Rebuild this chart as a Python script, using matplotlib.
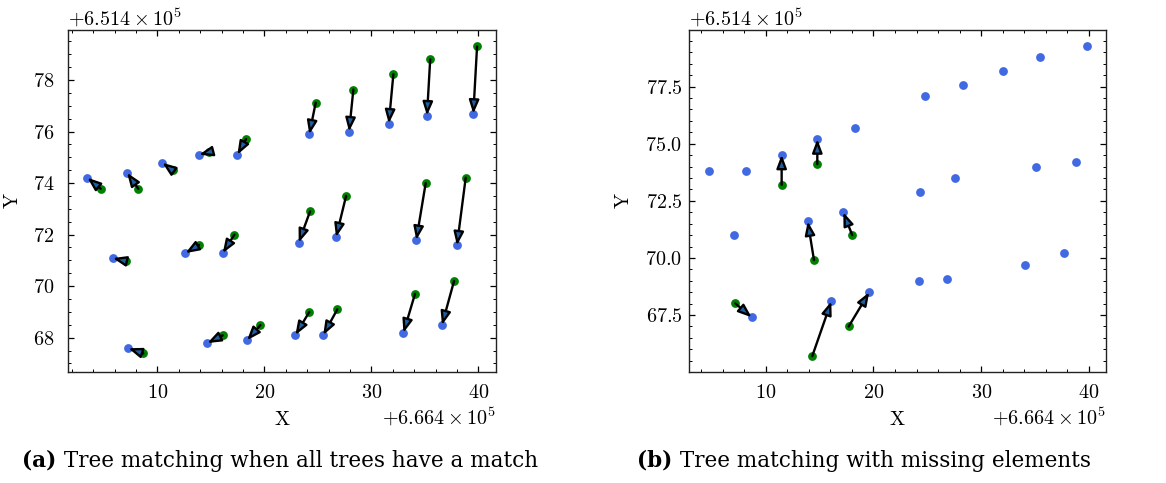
import matplotlib
matplotlib.use("Agg")
import matplotlib.pyplot as plt
from matplotlib.ticker import MultipleLocator, ScalarFormatter

plt.rcParams.update({
    "font.family": ["cmr10", "DejaVu Serif"],
    "mathtext.fontset": "cm",
    "axes.formatter.use_mathtext": True,
    "axes.unicode_minus": False,
    "font.size": 14.5,
    "xtick.direction": "in",
    "ytick.direction": "in",
    "xtick.top": True,
    "ytick.right": True,
    "xtick.major.size": 4.5,
    "ytick.major.size": 4.5,
    "xtick.minor.size": 2.5,
    "ytick.minor.size": 2.5,
    "xtick.major.width": 0.9,
    "ytick.major.width": 0.9,
    "xtick.minor.width": 0.7,
    "ytick.minor.width": 0.7,
    "axes.linewidth": 1.0,
    "axes.edgecolor": "#222222",
})

X0 = 666400.0
Y0 = 651400.0

# Panel (a): reference trees (blue) and matched detected trees (green)
xa_blue = [3.46, 7.17, 10.47, 13.90, 17.48, 24.20, 27.92, 31.63, 35.20, 39.53,
           5.83, 12.62, 16.11, 23.21, 26.70, 34.20, 38.00,
           7.29, 14.67, 18.38, 22.90, 25.50, 33.00, 36.60]
ya_blue = [74.21, 74.40, 74.79, 75.10, 75.10, 75.89, 76.00, 76.31, 76.62, 76.69,
           71.09, 71.28, 71.28, 71.69, 71.90, 71.79, 71.58,
           67.59, 67.79, 67.90, 68.10, 68.10, 68.19, 68.49]
xa_green = [4.71, 8.22, 11.44, 14.83, 18.29, 24.80, 28.32, 32.06, 35.50, 39.88,
            7.07, 13.90, 17.20, 24.27, 27.64, 35.08, 38.82,
            8.69, 16.11, 19.63, 24.20, 26.82, 34.08, 37.73]
ya_green = [73.78, 73.78, 74.49, 75.20, 75.71, 77.12, 77.63, 78.23, 78.80, 79.30,
            70.97, 71.60, 72.00, 72.90, 73.50, 74.00, 74.21,
            67.39, 68.09, 68.49, 69.00, 69.10, 69.70, 70.20]

# Panel (b): all reference trees (blue), detected trees (green) and their matches
xb_blue = [4.71, 8.20, 11.48, 14.79, 18.28, 24.80, 28.30, 31.98, 35.47, 39.78,
           7.09, 13.90, 17.20, 24.29, 27.59, 35.07, 38.81,
           8.70, 16.09, 19.61, 24.19, 26.79, 34.08, 37.70]
yb_blue = [73.82, 73.82, 74.52, 75.20, 75.70, 77.10, 77.59, 78.19, 78.79, 79.30,
           71.00, 71.60, 72.00, 72.90, 73.50, 74.00, 74.21,
           67.40, 68.10, 68.50, 69.00, 69.09, 69.70, 70.20]
xb_green = [11.48, 14.79, 18.03, 14.48, 7.18, 14.32, 17.70]
yb_green = [73.20, 74.11, 71.00, 69.91, 68.01, 65.70, 67.00]
xb_match = [11.48, 14.79, 17.20, 13.90, 8.70, 16.09, 19.61]
yb_match = [74.52, 75.20, 72.00, 71.60, 67.40, 68.10, 68.50]

captions = ["(a)", "(b)"]
caption_texts = [" Tree matching when all trees have a match",
                 " Tree matching with missing elements"]


class CMFormatter(ScalarFormatter):
    """ScalarFormatter whose mathtext is drawn in Computer Modern."""

    def __call__(self, x, pos=None):
        return super().__call__(x, pos).replace(r"\mathdefault", r"\mathrm")

    def get_offset(self):
        return super().get_offset().replace(r"\mathdefault", r"\mathrm")


W, H = 1166, 483
fig = plt.figure(figsize=(W / 100, H / 100), dpi=100)

ax_a = fig.add_axes([68 / W, 1 - 371.7 / H, 428 / W, 341.7 / H])
ax_b = fig.add_axes([689.3 / W, 1 - 371.7 / H, 416.7 / W, 341.7 / H])

BLUE = "royalblue"
GREEN = "green"
HEADFC = "#1f5fa0"


def draw_arrows(ax, xs, ys, xe, ye):
    for x1, y1, x2, y2 in zip(xs, ys, xe, ye):
        ax.annotate("", xy=(X0 + x2, Y0 + y2), xytext=(X0 + x1, Y0 + y1),
                    arrowprops=dict(arrowstyle="-|>,head_length=0.8,head_width=0.3",
                                    mutation_scale=10, facecolor=HEADFC,
                                    edgecolor="black", lw=1.7,
                                    shrinkA=0, shrinkB=0),
                    zorder=5)


ax_a.scatter([X0 + v for v in xa_blue], [Y0 + v for v in ya_blue], s=40,
             color=BLUE, linewidths=0, zorder=3)
ax_a.scatter([X0 + v for v in xa_green], [Y0 + v for v in ya_green], s=40,
             color=GREEN, linewidths=0, zorder=3)
draw_arrows(ax_a, xa_green, ya_green, xa_blue, ya_blue)

ax_b.scatter([X0 + v for v in xb_blue], [Y0 + v for v in yb_blue], s=40,
             color=BLUE, linewidths=0, zorder=3)
ax_b.scatter([X0 + v for v in xb_green], [Y0 + v for v in yb_green], s=40,
             color=GREEN, linewidths=0, zorder=3)
draw_arrows(ax_b, xb_green, yb_green, xb_match, yb_match)

ax_a.set_xlim(X0 + 1.65, X0 + 41.65)
ax_a.set_ylim(Y0 + 66.68, Y0 + 79.94)
ax_b.set_xlim(X0 + 2.91, X0 + 41.58)
ax_b.set_ylim(Y0 + 65.02, Y0 + 79.98)

ax_a.xaxis.set_major_locator(MultipleLocator(10))
ax_a.xaxis.set_minor_locator(MultipleLocator(2))
ax_a.yaxis.set_major_locator(MultipleLocator(2))
ax_a.yaxis.set_minor_locator(MultipleLocator(0.5))
ax_b.xaxis.set_major_locator(MultipleLocator(10))
ax_b.xaxis.set_minor_locator(MultipleLocator(2))
ax_b.yaxis.set_major_locator(MultipleLocator(2.5))
ax_b.yaxis.set_minor_locator(MultipleLocator(0.5))

for ax, ypad in ((ax_a, 10), (ax_b, 5)):
    ax.xaxis.set_major_formatter(CMFormatter())
    ax.yaxis.set_major_formatter(CMFormatter())
    ax.tick_params(axis="x", which="both", pad=9)
    ax.tick_params(axis="y", which="both", pad=ypad)
    ax.set_xlabel(r"$\mathrm{X}$", labelpad=6)
    ax.set_ylabel(r"$\mathrm{Y}$")

ax_a.yaxis.set_label_coords(-0.108, 0.5)
ax_b.yaxis.set_label_coords(-0.136, 0.5)

cap_centers = [280 / W, 864 / W]
cap_y = 1 - 466.5 / H
fig.canvas.draw()
renderer = fig.canvas.get_renderer()
for cx, lab, txt in zip(cap_centers, captions, caption_texts):
    t1 = fig.text(0, cap_y, lab, fontsize=15.5, fontweight="bold",
                  family="DejaVu Serif", va="baseline", ha="left")
    t2 = fig.text(0, cap_y, txt, fontsize=15.5, family="DejaVu Serif",
                  va="baseline", ha="left")
    w1 = t1.get_window_extent(renderer).width
    w2 = t2.get_window_extent(renderer).width
    left = cx * W - (w1 + w2) / 2
    t1.set_x(left / W)
    t2.set_x((left + w1) / W)

fig.savefig("out.png", dpi=100)
